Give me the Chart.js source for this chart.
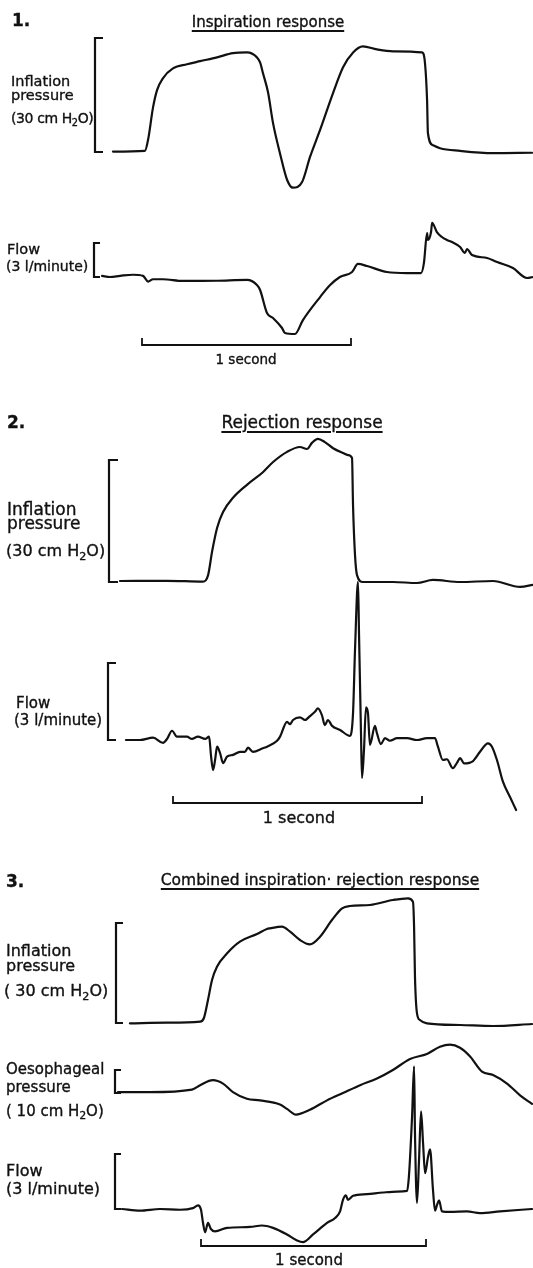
<!DOCTYPE html>
<html>
<head>
<meta charset="utf-8">
<script src="https://cdn.jsdelivr.net/npm/chart.js@4.4.1/dist/chart.umd.min.js"></script>
<style>
  body { margin: 0; background: #fff; }
  #fig { position: relative; width: 533px; height: 1268px; overflow: hidden; }
  #fig canvas { position: absolute; left: 0; top: 0; }
  .lbl { position: absolute; white-space: nowrap; line-height: 1; color: #111; font-family: "DejaVu Sans", sans-serif; -webkit-text-stroke: 0.35px #111; }
  .lbl.c { transform: translateX(-50%); }
  .lbl.u { text-decoration: underline; text-decoration-thickness: 1.6px; text-underline-offset: 3px; }
  .lbl .sb { font-size: .7em; position: relative; top: .28em; }
</style>
</head>
<body>
<div id="fig"><canvas id="chart" width="533" height="1268"></canvas></div>
<script>
// time in seconds from the start of each 1-second bar, pressure in cm H2O, flow in l/minute

// 1. Inspiration response
const insPressure = [
  [-0.139, 0.1], [0.014, 0.3], [0.029, 3.2], [0.053, 11.8], [0.072, 16.3], [0.100, 19.4],
  [0.148, 22.0], [0.215, 23.1], [0.278, 23.9], [0.359, 24.9], [0.435, 26.0], [0.502, 26.2],
  [0.550, 24.9], [0.565, 23.6], [0.579, 20.7], [0.603, 15.7], [0.627, 7.6], [0.660, -0.3],
  [0.694, -7.3], [0.722, -9.4], [0.766, -7.9], [0.804, -1.3], [0.852, 5.8], [0.914, 15.5],
  [0.962, 22.3], [1.010, 26.2], [1.057, 27.8], [1.124, 27.0], [1.201, 26.5], [1.340, 26.2],
  [1.354, 23.4], [1.364, 13.6], [1.368, 5.0], [1.392, 1.8], [1.426, 1.0], [1.522, 0.3],
  [1.679, -0.3], [1.866, -0.2]
];
const insFlow = [
  [-0.191, 0.1], [-0.153, 0.0], [-0.105, 0.1], [-0.043, 0.2], [0.005, 0.1], [0.029, -0.4],
  [0.053, -0.2], [0.100, -0.2], [0.196, -0.35], [0.359, -0.33], [0.502, -0.26], [0.550, -0.71],
  [0.565, -1.15], [0.598, -3.18], [0.627, -3.62], [0.670, -4.5], [0.684, -4.94], [0.732, -5.03],
  [0.770, -3.8], [0.852, -1.77], [0.900, -0.71], [0.947, 0.0], [1.005, 0.44], [1.033, 1.15],
  [1.077, 0.97], [1.172, 0.44], [1.268, 0.35], [1.335, 0.35], [1.349, 1.24], [1.364, 3.88],
  [1.368, 3.27], [1.383, 3.97], [1.388, 4.77], [1.411, 3.97], [1.435, 3.53], [1.459, 3.27],
  [1.483, 3.09], [1.522, 2.65], [1.545, 2.12], [1.555, 2.47], [1.579, 1.94], [1.651, 1.68],
  [1.699, 1.32], [1.775, 0.79], [1.842, -0.09], [1.871, 0.0]
];

// 2. Rejection response
const rejPressure = [
  [-0.213, 0.25], [-0.024, 0.3], [0.120, 0.1], [0.141, 1.7], [0.157, 7.5], [0.177, 13.3],
  [0.201, 17.2], [0.241, 20.7], [0.297, 23.9], [0.361, 27.0], [0.402, 29.5], [0.458, 32.0],
  [0.510, 33.2], [0.538, 32.7], [0.558, 34.2], [0.582, 35.2], [0.610, 34.4], [0.643, 32.9],
  [0.683, 31.7], [0.703, 31.2], [0.719, 30.5], [0.723, 18.9], [0.731, 6.6], [0.739, 1.7],
  [0.763, 0.0], [0.884, 0.0], [0.980, -0.25], [1.044, 0.5], [1.153, 0.0], [1.285, 0.25],
  [1.394, -1.2], [1.446, -0.7]
];
const rejFlow = [
  [-0.189, 0.0], [-0.133, 0.0], [-0.080, 0.09], [-0.040, -0.11], [-0.024, 0.04], [-0.004, 0.36],
  [0.016, 0.13], [0.056, 0.13], [0.076, 0.04], [0.100, 0.13], [0.129, 0.04], [0.145, 0.13],
  [0.153, -0.65], [0.161, -1.17], [0.169, -0.78], [0.177, -0.26], [0.189, -0.51], [0.201, -0.9],
  [0.217, -0.65], [0.241, -0.58], [0.269, -0.46], [0.289, -0.46], [0.301, -0.3], [0.321, -0.46],
  [0.361, -0.32], [0.378, -0.26], [0.418, -0.03], [0.430, 0.13], [0.458, 0.71], [0.470, 0.62],
  [0.482, 0.78], [0.510, 0.88], [0.530, 0.78], [0.550, 0.93], [0.570, 1.1], [0.582, 1.23],
  [0.598, 0.97], [0.610, 0.58], [0.622, 0.78], [0.639, 0.55], [0.671, 0.39], [0.711, 0.16],
  [0.723, 1.04], [0.731, 3.51], [0.743, 6.16], [0.747, 4.17], [0.755, 0.27], [0.759, -1.48],
  [0.767, -0.39], [0.775, 1.27], [0.783, 1.05], [0.791, -0.19], [0.811, 0.55], [0.819, 0.27],
  [0.835, -0.16], [0.851, 0.07], [0.871, -0.03], [0.900, 0.07], [0.940, 0.07], [0.980, 0.0],
  [1.020, 0.07], [1.052, 0.07], [1.064, -0.26], [1.084, -0.78], [1.100, -0.75], [1.124, -1.1],
  [1.141, -0.88], [1.153, -0.71], [1.169, -0.91], [1.205, -0.82], [1.233, -0.46], [1.265, -0.13],
  [1.281, -0.26], [1.301, -0.78], [1.325, -1.62], [1.353, -2.21], [1.378, -2.73]
];

// 3. Combined inspiration-rejection response
const combPressure = [
  [-0.316, -0.1], [-0.151, 0.1], [-0.004, 0.4], [0.013, 1.5], [0.031, 6.9], [0.049, 12.9],
  [0.071, 16.9], [0.116, 20.9], [0.173, 24.4], [0.249, 26.7], [0.293, 28.2], [0.307, 28.4],
  [0.360, 28.9], [0.396, 27.4], [0.440, 24.9], [0.484, 23.6], [0.529, 25.9], [0.582, 30.9],
  [0.627, 34.4], [0.662, 35.1], [0.751, 35.4], [0.853, 36.9], [0.920, 37.4], [0.942, 36.4],
  [0.947, 28.9], [0.951, 13.9], [0.960, 2.9], [0.973, 0.9], [1.004, -0.1], [1.151, -0.6],
  [1.298, -0.9], [1.471, -0.3]
];
const combOesophageal = [
  [-0.369, 0.4], [-0.227, 0.4], [-0.040, 1.5], [-0.004, 3.4], [0.053, 5.6], [0.098, 4.1],
  [0.142, 0.4], [0.204, -2.5], [0.262, -3.2], [0.351, -5.0], [0.382, -6.9], [0.422, -9.4],
  [0.484, -7.3], [0.560, -3.2], [0.631, 0.0], [0.707, 3.4], [0.782, 6.3], [0.853, 10.0],
  [0.929, 14.8], [1.004, 17.0], [1.062, 20.1], [1.107, 21.0], [1.151, 19.7], [1.196, 15.9],
  [1.249, 9.3], [1.298, 7.8], [1.360, 4.1], [1.418, -1.0], [1.471, -4.7]
];
const combFlow = [
  [-0.351, 0.0], [-0.271, -0.09], [-0.182, 0.0], [-0.093, -0.04], [-0.036, 0.05], [-0.013, 0.2],
  [0.000, -0.04], [0.009, -0.76], [0.018, -1.27], [0.031, -0.76], [0.044, -1.09], [0.062, -1.22],
  [0.116, -1.03], [0.218, -0.98], [0.271, -0.9], [0.320, -1.03], [0.382, -1.39], [0.427, -1.72],
  [0.453, -1.81], [0.498, -1.39], [0.560, -0.76], [0.596, -0.49], [0.618, -0.13], [0.631, 0.5],
  [0.644, 0.74], [0.653, 0.5], [0.676, 0.72], [0.738, 0.81], [0.809, 0.9], [0.871, 0.95],
  [0.916, 0.99], [0.924, 1.77], [0.938, 5.02], [0.947, 7.78], [0.951, 4.14], [0.960, 0.33],
  [0.969, 2.67], [0.978, 5.33], [0.987, 3.58], [0.996, 1.95], [1.009, 2.85], [1.018, 3.26],
  [1.031, 1.05], [1.040, -0.09], [1.049, 0.23], [1.058, 0.47], [1.071, -0.13], [1.107, -0.16],
  [1.182, -0.13], [1.240, -0.22], [1.329, -0.13], [1.471, 0.0]
];

const W = 533, H = 1268;

// page layout, in px
const panels = [
  { id: 'x1', barStart: 142, pxPerSec: 209, barY: 345 },
  { id: 'x2', barStart: 173, pxPerSec: 249, barY: 803 },
  { id: 'x3', barStart: 201, pxPerSec: 225, barY: 1246 }
];
const traces = [
  { id: 'yP1', x: 'x1', data: insPressure, bracket: 30, zeroPx: 152, topPx: 38, bx: 95, tick: 8 },
  { id: 'yF1', x: 'x1', data: insFlow, bracket: 3, zeroPx: 277, topPx: 243, bx: 94, tick: 6 },
  { id: 'yP2', x: 'x2', data: rejPressure, bracket: 30, zeroPx: 582, topPx: 460, bx: 109, tick: 9 },
  { id: 'yF2', x: 'x2', data: rejFlow, bracket: 3, zeroPx: 740, topPx: 663, bx: 108, tick: 8 },
  { id: 'yP3', x: 'x3', data: combPressure, bracket: 30, zeroPx: 1023, topPx: 923, bx: 116, tick: 7 },
  { id: 'yO3', x: 'x3', data: combOesophageal, bracket: 10, zeroPx: 1093, topPx: 1070, bx: 115, tick: 6 },
  { id: 'yF3', x: 'x3', data: combFlow, bracket: 3, zeroPx: 1209, topPx: 1154, bx: 115, tick: 6 }
];

const H2O = 'H<span class="sb">2</span>O';
const labels = [
  { html: '1.', x: 12, base: 26, size: 17, bold: true },
  { html: 'Inspiration response', cx: 268, base: 28, size: 15, under: true },
  { html: 'Inflation', x: 11, base: 86, size: 14.5 },
  { html: 'pressure', x: 11, base: 100, size: 14.5 },
  { html: '(30 cm ' + H2O + ')', x: 11, base: 123, size: 14, ls: -0.4 },
  { html: 'Flow', x: 7, base: 254, size: 14.5 },
  { html: '(3 l/minute)', x: 6, base: 271, size: 14 },
  { html: '1 second', cx: 246, base: 364, size: 13.5 },

  { html: '2.', x: 7, base: 428, size: 17, bold: true },
  { html: 'Rejection response', cx: 302, base: 428, size: 17, under: true },
  { html: 'Inflation', x: 7, base: 515, size: 17 },
  { html: 'pressure', x: 7, base: 529, size: 17 },
  { html: '(30 cm ' + H2O + ')', x: 6, base: 557, size: 16 },
  { html: 'Flow', x: 16, base: 709, size: 15 },
  { html: '(3 l/minute)', x: 14, base: 726, size: 15 },
  { html: '1 second', cx: 299, base: 824, size: 16 },

  { html: '3.', x: 6, base: 887, size: 17, bold: true },
  { html: 'Combined inspiration· rejection response', cx: 320, base: 886, size: 15.5, under: true },
  { html: 'Inflation', x: 6, base: 957, size: 16 },
  { html: 'pressure', x: 6, base: 972, size: 16 },
  { html: '( 30 cm ' + H2O + ')', x: 4, base: 997, size: 16 },
  { html: 'Oesophageal', x: 6, base: 1075, size: 15 },
  { html: 'pressure', x: 6, base: 1093, size: 15 },
  { html: '( 10 cm ' + H2O + ')', x: 6, base: 1117, size: 15 },
  { html: 'Flow', x: 6, base: 1177, size: 16 },
  { html: '(3 l/minute)', x: 6, base: 1195, size: 16 },
  { html: '1 second', cx: 309, base: 1266, size: 15 }
];

const fig = document.getElementById('fig');
labels.forEach(l => {
  const d = document.createElement('div');
  d.className = 'lbl' + (l.cx !== undefined ? ' c' : '') + (l.under ? ' u' : '');
  d.innerHTML = l.html;
  d.style.fontSize = l.size + 'px';
  d.style.fontWeight = l.bold ? 'bold' : 'normal';
  if (l.ls) d.style.letterSpacing = l.ls + 'px';
  d.style.left = (l.cx !== undefined ? l.cx : l.x) + 'px';
  d.style.top = (l.base - 0.846 * l.size) + 'px';
  fig.appendChild(d);
});

const scales = {};
panels.forEach(p => {
  scales[p.id] = { type: 'linear', axis: 'x', display: false, min: -p.barStart / p.pxPerSec, max: (W - p.barStart) / p.pxPerSec };
});
traces.forEach(tr => {
  const ppu = (tr.zeroPx - tr.topPx) / tr.bracket;
  scales[tr.id] = { type: 'linear', axis: 'y', display: false, min: (tr.zeroPx - H) / ppu, max: tr.zeroPx / ppu };
});

// calibration brackets and 1-second bars
const scaleMarks = {
  id: 'scaleMarks',
  afterDatasetsDraw(chart) {
    const ctx = chart.ctx;
    ctx.save();
    ctx.strokeStyle = '#111';
    ctx.lineWidth = 2.2;
    traces.forEach(tr => {
      const y = chart.scales[tr.id];
      const y0 = y.getPixelForValue(0);
      const y1 = y.getPixelForValue(tr.bracket);
      ctx.beginPath();
      ctx.moveTo(tr.bx + tr.tick, y1);
      ctx.lineTo(tr.bx, y1);
      ctx.lineTo(tr.bx, y0);
      ctx.lineTo(tr.bx + tr.tick, y0);
      ctx.stroke();
    });
    ctx.lineWidth = 1.8;
    panels.forEach(p => {
      const x = chart.scales[p.id];
      const a = x.getPixelForValue(0);
      const b = x.getPixelForValue(1);
      ctx.beginPath();
      ctx.moveTo(a, p.barY - 7);
      ctx.lineTo(a, p.barY);
      ctx.lineTo(b, p.barY);
      ctx.lineTo(b, p.barY - 7);
      ctx.stroke();
    });
    ctx.restore();
  }
};

new Chart(document.getElementById('chart'), {
  type: 'line',
  data: {
    datasets: traces.map(tr => ({
      data: tr.data.map(([t, v]) => ({ x: t, y: v })),
      xAxisID: tr.x,
      yAxisID: tr.id,
      borderColor: '#111',
      borderWidth: 2.2,
      borderJoinStyle: 'round',
      borderCapStyle: 'round',
      pointRadius: 0,
      fill: false,
      cubicInterpolationMode: 'monotone'
    }))
  },
  options: {
    responsive: false,
    animation: false,
    events: [],
    layout: { padding: 0 },
    plugins: { legend: { display: false }, tooltip: { enabled: false } },
    scales
  },
  plugins: [scaleMarks]
});
</script>
</body>
</html>
